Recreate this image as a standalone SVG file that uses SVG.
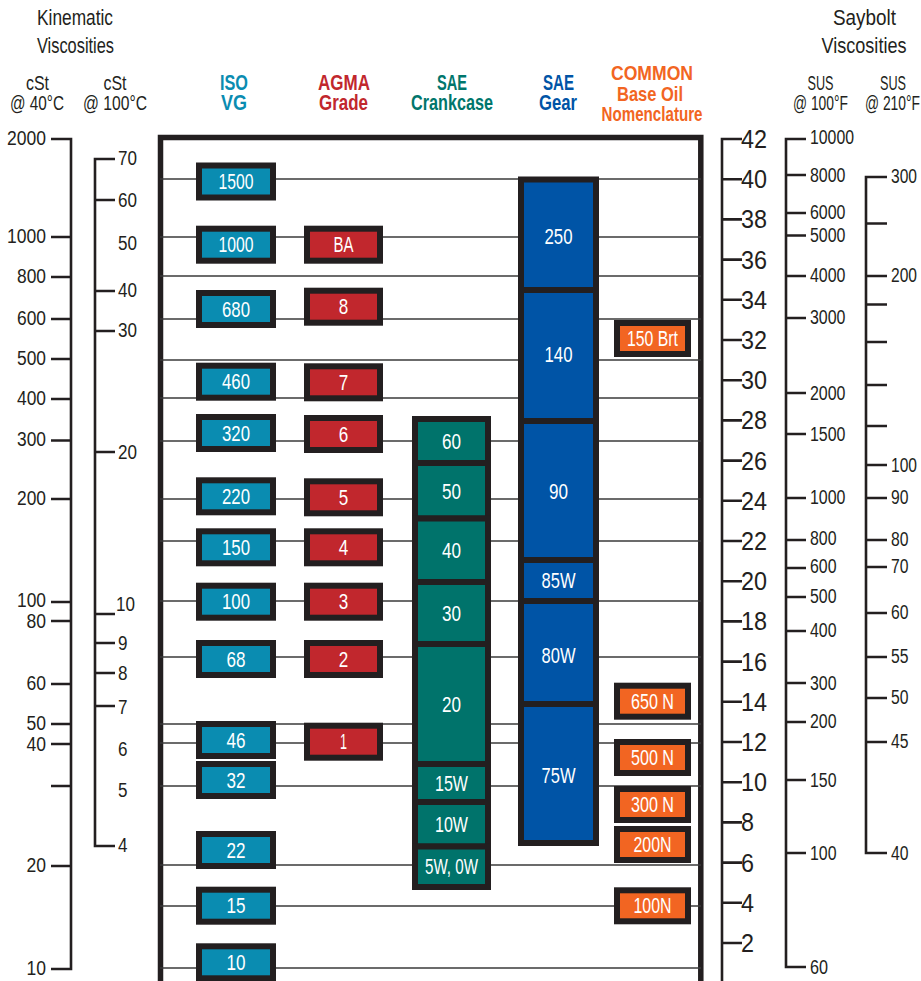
<svg xmlns="http://www.w3.org/2000/svg" width="921" height="981" viewBox="0 0 921 981">
<style>
text{font-family:"Liberation Sans",Arial,sans-serif;}
.h{fill:#231f20;font-size:22px;text-anchor:middle;}
.h2{fill:#231f20;font-size:19.5px;text-anchor:middle;}
.hb{font-size:22px;font-weight:bold;text-anchor:middle;}
.hc{font-size:20.5px;font-weight:bold;text-anchor:middle;fill:#f26522;}
.sc{fill:none;stroke:#231f20;stroke-width:2.6;}
.lab{fill:#231f20;font-size:19.5px;dominant-baseline:central;}
.l1{text-anchor:end;}
.big{font-size:26px;}
.sm{font-size:20px;}
.grid line{stroke:#3a3a3a;stroke-width:1.6;}
.b rect{stroke:#231f20;stroke-width:6;}
.b text{fill:#fff;font-size:22px;text-anchor:middle;dominant-baseline:central;}
.iso rect{fill:#0a8cb1;}
.agma rect{fill:#c1272d;}
.crank rect{fill:#00736b;}
.gear rect{fill:#0054a6;}
.com rect{fill:#f26522;}
</style>

<g id="headers">
<text class="h" x="75" y="25" textLength="76" lengthAdjust="spacingAndGlyphs">Kinematic</text>
<text class="h" x="75.5" y="53" textLength="77" lengthAdjust="spacingAndGlyphs">Viscosities</text>
<text class="h2" x="37.5" y="90" textLength="23" lengthAdjust="spacingAndGlyphs">cSt</text>
<text class="h2" x="37" y="110" textLength="54" lengthAdjust="spacingAndGlyphs">@ 40°C</text>
<text class="h2" x="115" y="90" textLength="23" lengthAdjust="spacingAndGlyphs">cSt</text>
<text class="h2" x="115" y="110" textLength="64" lengthAdjust="spacingAndGlyphs">@ 100°C</text>
<text class="hb" x="234" y="90" fill="#0a8cb1" textLength="28" lengthAdjust="spacingAndGlyphs">ISO</text>
<text class="hb" x="234" y="110" fill="#0a8cb1" textLength="26" lengthAdjust="spacingAndGlyphs">VG</text>
<text class="hb" x="344" y="90" fill="#c1272d" textLength="52" lengthAdjust="spacingAndGlyphs">AGMA</text>
<text class="hb" x="343.5" y="110" fill="#c1272d" textLength="49" lengthAdjust="spacingAndGlyphs">Grade</text>
<text class="hb" x="452" y="90" fill="#00766c" textLength="30" lengthAdjust="spacingAndGlyphs">SAE</text>
<text class="hb" x="452" y="110" fill="#00766c" textLength="82" lengthAdjust="spacingAndGlyphs">Crankcase</text>
<text class="hb" x="558.5" y="90" fill="#0054a6" textLength="31" lengthAdjust="spacingAndGlyphs">SAE</text>
<text class="hb" x="558" y="110" fill="#0054a6" textLength="38" lengthAdjust="spacingAndGlyphs">Gear</text>
<text class="hc" x="652" y="80" textLength="82" lengthAdjust="spacingAndGlyphs">COMMON</text>
<text class="hc" x="650" y="100.5" textLength="66" lengthAdjust="spacingAndGlyphs">Base Oil</text>
<text class="hc" x="652" y="121" textLength="101" lengthAdjust="spacingAndGlyphs">Nomenclature</text>
<text class="h" x="864.5" y="25" textLength="63" lengthAdjust="spacingAndGlyphs">Saybolt</text>
<text class="h" x="864" y="53" textLength="85" lengthAdjust="spacingAndGlyphs">Viscosities</text>
<text class="h2" x="820.5" y="90" textLength="26" lengthAdjust="spacingAndGlyphs">SUS</text>
<text class="h2" x="820.5" y="110" textLength="55" lengthAdjust="spacingAndGlyphs">@ 100°F</text>
<text class="h2" x="893" y="90" textLength="26" lengthAdjust="spacingAndGlyphs">SUS</text>
<text class="h2" x="892.5" y="110" textLength="55" lengthAdjust="spacingAndGlyphs">@ 210°F</text>
</g>

<g id="scale-cst40">
<path class="sc" d="M51,139 H71 V969 H51 M51,237 H71 M51,277 H71 M51,319 H71 M51,359 H71 M51,399 H71 M51,440.5 H71 M51,499 H71 M51,602 H71 M51,621 H71 M51,684 H71 M51,724 H71 M51,744 H71 M51,786 H71 M51,866 H71"/>
<g class="lab l1">
<text x="46" y="138" textLength="39" lengthAdjust="spacingAndGlyphs">2000</text>
<text x="46" y="236" textLength="39" lengthAdjust="spacingAndGlyphs">1000</text>
<text x="46" y="276" textLength="29" lengthAdjust="spacingAndGlyphs">800</text>
<text x="46" y="318" textLength="29" lengthAdjust="spacingAndGlyphs">600</text>
<text x="46" y="358" textLength="29" lengthAdjust="spacingAndGlyphs">500</text>
<text x="46" y="398" textLength="29" lengthAdjust="spacingAndGlyphs">400</text>
<text x="46" y="439" textLength="29" lengthAdjust="spacingAndGlyphs">300</text>
<text x="46" y="498" textLength="29" lengthAdjust="spacingAndGlyphs">200</text>
<text x="46" y="600" textLength="29" lengthAdjust="spacingAndGlyphs">100</text>
<text x="46" y="621" textLength="19.5" lengthAdjust="spacingAndGlyphs">80</text>
<text x="46" y="683" textLength="19.5" lengthAdjust="spacingAndGlyphs">60</text>
<text x="46" y="723" textLength="19.5" lengthAdjust="spacingAndGlyphs">50</text>
<text x="46" y="744" textLength="19.5" lengthAdjust="spacingAndGlyphs">40</text>
<text x="46" y="865" textLength="19.5" lengthAdjust="spacingAndGlyphs">20</text>
<text x="46" y="968" textLength="19.5" lengthAdjust="spacingAndGlyphs">10</text>
</g>
</g>

<g id="scale-cst100">
<path class="sc" d="M115,159 H95 V846 H115 M95,200 H115 M95,291 H115 M95,331 H115 M95,452 H115 M95,614 H115 M95,643 H115 M95,673 H115 M95,706 H115"/>
<g class="lab">
<text x="118" y="158" textLength="19" lengthAdjust="spacingAndGlyphs">70</text>
<text x="118" y="200" textLength="19" lengthAdjust="spacingAndGlyphs">60</text>
<text x="118" y="243" textLength="19" lengthAdjust="spacingAndGlyphs">50</text>
<text x="118" y="290" textLength="19" lengthAdjust="spacingAndGlyphs">40</text>
<text x="118" y="330" textLength="19" lengthAdjust="spacingAndGlyphs">30</text>
<text x="118" y="452" textLength="19" lengthAdjust="spacingAndGlyphs">20</text>
<text x="116" y="604" textLength="19" lengthAdjust="spacingAndGlyphs">10</text>
<text x="118" y="643" textLength="9.5" lengthAdjust="spacingAndGlyphs">9</text>
<text x="118" y="673" textLength="9.5" lengthAdjust="spacingAndGlyphs">8</text>
<text x="118" y="707" textLength="9.5" lengthAdjust="spacingAndGlyphs">7</text>
<text x="118" y="749" textLength="9.5" lengthAdjust="spacingAndGlyphs">6</text>
<text x="118" y="790" textLength="9.5" lengthAdjust="spacingAndGlyphs">5</text>
<text x="118" y="845" textLength="9.5" lengthAdjust="spacingAndGlyphs">4</text>
</g>
</g>

<g id="frame">
<path d="M160.5,981 V137.5 H700.8 V981" fill="none" stroke="#231f20" stroke-width="5.5"/>
</g>

<g id="connectors" class="grid">
<line x1="160" y1="179" x2="701" y2="179"/>
<line x1="160" y1="237" x2="701" y2="237"/>
<line x1="160" y1="276" x2="701" y2="276"/>
<line x1="160" y1="319" x2="701" y2="319"/>
<line x1="160" y1="360" x2="701" y2="360"/>
<line x1="160" y1="398" x2="701" y2="398"/>
<line x1="160" y1="441" x2="701" y2="441"/>
<line x1="160" y1="499" x2="701" y2="499"/>
<line x1="160" y1="541" x2="701" y2="541"/>
<line x1="160" y1="601" x2="701" y2="601"/>
<line x1="160" y1="657" x2="701" y2="657"/>
<line x1="160" y1="724" x2="701" y2="724"/>
<line x1="160" y1="743" x2="701" y2="743"/>
<line x1="160" y1="786" x2="701" y2="786"/>
<line x1="160" y1="865" x2="701" y2="865"/>
<line x1="160" y1="906" x2="701" y2="906"/>
<line x1="160" y1="968" x2="701" y2="968"/>
</g>

<g class="b iso">
<g id="iso-1500"><rect x="199" y="165.5" width="74" height="32"/><text x="236" y="181.5" textLength="35" lengthAdjust="spacingAndGlyphs">1500</text></g>
<g id="iso-1000"><rect x="199" y="228.7" width="74" height="32"/><text x="236" y="244.7" textLength="35" lengthAdjust="spacingAndGlyphs">1000</text></g>
<g id="iso-680"><rect x="199" y="293" width="74" height="32"/><text x="236" y="309" textLength="28" lengthAdjust="spacingAndGlyphs">680</text></g>
<g id="iso-460"><rect x="199" y="365.7" width="74" height="32"/><text x="236" y="381.7" textLength="28" lengthAdjust="spacingAndGlyphs">460</text></g>
<g id="iso-320"><rect x="199" y="417" width="74" height="32"/><text x="236" y="433" textLength="28" lengthAdjust="spacingAndGlyphs">320</text></g>
<g id="iso-220"><rect x="199" y="480.3" width="74" height="32"/><text x="236" y="496.3" textLength="28" lengthAdjust="spacingAndGlyphs">220</text></g>
<g id="iso-150"><rect x="199" y="531.3" width="74" height="32"/><text x="236" y="547.3" textLength="28" lengthAdjust="spacingAndGlyphs">150</text></g>
<g id="iso-100"><rect x="199" y="585.7" width="74" height="32"/><text x="236" y="601.7" textLength="28" lengthAdjust="spacingAndGlyphs">100</text></g>
<g id="iso-68"><rect x="199" y="643" width="74" height="32"/><text x="236" y="659" textLength="19" lengthAdjust="spacingAndGlyphs">68</text></g>
<g id="iso-46"><rect x="199" y="724" width="74" height="32"/><text x="236" y="740" textLength="19" lengthAdjust="spacingAndGlyphs">46</text></g>
<g id="iso-32"><rect x="199" y="764" width="74" height="32"/><text x="236" y="780" textLength="19" lengthAdjust="spacingAndGlyphs">32</text></g>
<g id="iso-22"><rect x="199" y="834" width="74" height="32"/><text x="236" y="850" textLength="19" lengthAdjust="spacingAndGlyphs">22</text></g>
<g id="iso-15"><rect x="199" y="889.7" width="74" height="32"/><text x="236" y="905.7" textLength="19" lengthAdjust="spacingAndGlyphs">15</text></g>
<g id="iso-10"><rect x="199" y="946.3" width="74" height="32"/><text x="236" y="962.3" textLength="19" lengthAdjust="spacingAndGlyphs">10</text></g>
</g>

<g class="b agma">
<g id="agma-BA"><rect x="307" y="228.7" width="73" height="32"/><text x="343.5" y="244.7" textLength="20" lengthAdjust="spacingAndGlyphs">BA</text></g>
<g id="agma-8"><rect x="307" y="290.7" width="73" height="32"/><text x="343.5" y="306.7" textLength="9.5" lengthAdjust="spacingAndGlyphs">8</text></g>
<g id="agma-7"><rect x="307" y="366.3" width="73" height="32"/><text x="343.5" y="382.3" textLength="9.5" lengthAdjust="spacingAndGlyphs">7</text></g>
<g id="agma-6"><rect x="307" y="418" width="73" height="32"/><text x="343.5" y="434" textLength="9.5" lengthAdjust="spacingAndGlyphs">6</text></g>
<g id="agma-5"><rect x="307" y="481.3" width="73" height="32"/><text x="343.5" y="497.3" textLength="9.5" lengthAdjust="spacingAndGlyphs">5</text></g>
<g id="agma-4"><rect x="307" y="531.3" width="73" height="32"/><text x="343.5" y="547.3" textLength="9.5" lengthAdjust="spacingAndGlyphs">4</text></g>
<g id="agma-3"><rect x="307" y="585.7" width="73" height="32"/><text x="343.5" y="601.7" textLength="9.5" lengthAdjust="spacingAndGlyphs">3</text></g>
<g id="agma-2"><rect x="307" y="643" width="73" height="32"/><text x="343.5" y="659" textLength="9.5" lengthAdjust="spacingAndGlyphs">2</text></g>
<g id="agma-1"><rect x="307" y="725.7" width="73" height="32"/><text x="343.5" y="741.7" textLength="7" lengthAdjust="spacingAndGlyphs">1</text></g>
</g>

<g class="b crank">
<g id="crank-60"><rect x="415" y="419" width="73" height="44"/><text x="451.5" y="441" textLength="19" lengthAdjust="spacingAndGlyphs">60</text></g>
<g id="crank-50"><rect x="415" y="463" width="73" height="55.5"/><text x="451.5" y="491" textLength="19" lengthAdjust="spacingAndGlyphs">50</text></g>
<g id="crank-40"><rect x="415" y="518.5" width="73" height="63.5"/><text x="451.5" y="550" textLength="19" lengthAdjust="spacingAndGlyphs">40</text></g>
<g id="crank-30"><rect x="415" y="582" width="73" height="62"/><text x="451.5" y="613" textLength="19" lengthAdjust="spacingAndGlyphs">30</text></g>
<g id="crank-20"><rect x="415" y="644" width="73" height="120"/><text x="451.5" y="704" textLength="19" lengthAdjust="spacingAndGlyphs">20</text></g>
<g id="crank-15W"><rect x="415" y="764" width="73" height="38"/><text x="451.5" y="783" textLength="33" lengthAdjust="spacingAndGlyphs">15W</text></g>
<g id="crank-10W"><rect x="415" y="802" width="73" height="44.5"/><text x="451.5" y="824" textLength="33" lengthAdjust="spacingAndGlyphs">10W</text></g>
<g id="crank-5W0W"><rect x="415" y="846.5" width="73" height="40.5"/><text x="451.5" y="866.5" textLength="53" lengthAdjust="spacingAndGlyphs">5W, 0W</text></g>
</g>

<g class="b gear">
<g id="gear-250"><rect x="521" y="179.5" width="75" height="110.5"/><text x="558.5" y="236.5" textLength="28" lengthAdjust="spacingAndGlyphs">250</text></g>
<g id="gear-140"><rect x="521" y="290" width="75" height="131"/><text x="558.5" y="354" textLength="28" lengthAdjust="spacingAndGlyphs">140</text></g>
<g id="gear-90"><rect x="521" y="421" width="75" height="139"/><text x="558.5" y="491.5" textLength="19" lengthAdjust="spacingAndGlyphs">90</text></g>
<g id="gear-85W"><rect x="521" y="560" width="75" height="41"/><text x="558.5" y="580" textLength="34" lengthAdjust="spacingAndGlyphs">85W</text></g>
<g id="gear-80W"><rect x="521" y="601" width="75" height="103"/><text x="558.5" y="655.5" textLength="34" lengthAdjust="spacingAndGlyphs">80W</text></g>
<g id="gear-75W"><rect x="521" y="704" width="75" height="139"/><text x="558.5" y="775" textLength="34" lengthAdjust="spacingAndGlyphs">75W</text></g>
</g>

<g class="b com">
<g id="com-150Brt"><rect x="617" y="323" width="71" height="31"/><text x="652.5" y="338.5" textLength="51" lengthAdjust="spacingAndGlyphs">150 Brt</text></g>
<g id="com-650N"><rect x="617" y="685.7" width="71" height="31"/><text x="652.5" y="701.2" textLength="43" lengthAdjust="spacingAndGlyphs">650 N</text></g>
<g id="com-500N"><rect x="617" y="742" width="71" height="31"/><text x="652.5" y="757.5" textLength="43" lengthAdjust="spacingAndGlyphs">500 N</text></g>
<g id="com-300N"><rect x="617" y="789" width="71" height="31"/><text x="652.5" y="804.5" textLength="43" lengthAdjust="spacingAndGlyphs">300 N</text></g>
<g id="com-200N"><rect x="617" y="829" width="71" height="31"/><text x="652.5" y="844.5" textLength="38" lengthAdjust="spacingAndGlyphs">200N</text></g>
<g id="com-100N"><rect x="617" y="890.3" width="71" height="31"/><text x="652.5" y="905.8" textLength="38" lengthAdjust="spacingAndGlyphs">100N</text></g>
</g>

<g id="scale-right1">
<path class="sc" d="M742,139 H722 V981 M722,179.2 H742 M722,219.4 H742 M722,259.6 H742 M722,299.8 H742 M722,340 H742 M722,380.2 H742 M722,420.4 H742 M722,460.6 H742 M722,500.8 H742 M722,541 H742 M722,581.2 H742 M722,621.4 H742 M722,661.6 H742 M722,701.8 H742 M722,742 H742 M722,782.2 H742 M722,822.4 H742 M722,862.6 H742 M722,902.8 H742 M722,943 H742"/>
<g class="lab big">
<text x="741" y="139" textLength="26" lengthAdjust="spacingAndGlyphs">42</text>
<text x="741" y="179.2" textLength="26" lengthAdjust="spacingAndGlyphs">40</text>
<text x="741" y="219.4" textLength="26" lengthAdjust="spacingAndGlyphs">38</text>
<text x="741" y="259.6" textLength="26" lengthAdjust="spacingAndGlyphs">36</text>
<text x="741" y="299.8" textLength="26" lengthAdjust="spacingAndGlyphs">34</text>
<text x="741" y="340" textLength="26" lengthAdjust="spacingAndGlyphs">32</text>
<text x="741" y="380.2" textLength="26" lengthAdjust="spacingAndGlyphs">30</text>
<text x="741" y="420.4" textLength="26" lengthAdjust="spacingAndGlyphs">28</text>
<text x="741" y="460.6" textLength="26" lengthAdjust="spacingAndGlyphs">26</text>
<text x="741" y="500.8" textLength="26" lengthAdjust="spacingAndGlyphs">24</text>
<text x="741" y="541" textLength="26" lengthAdjust="spacingAndGlyphs">22</text>
<text x="741" y="581.2" textLength="26" lengthAdjust="spacingAndGlyphs">20</text>
<text x="741" y="621.4" textLength="26" lengthAdjust="spacingAndGlyphs">18</text>
<text x="741" y="661.6" textLength="26" lengthAdjust="spacingAndGlyphs">16</text>
<text x="741" y="701.8" textLength="26" lengthAdjust="spacingAndGlyphs">14</text>
<text x="741" y="742" textLength="26" lengthAdjust="spacingAndGlyphs">12</text>
<text x="741" y="782.2" textLength="26" lengthAdjust="spacingAndGlyphs">10</text>
<text x="741" y="822.4" textLength="13" lengthAdjust="spacingAndGlyphs">8</text>
<text x="741" y="862.6" textLength="13" lengthAdjust="spacingAndGlyphs">6</text>
<text x="741" y="902.8" textLength="13" lengthAdjust="spacingAndGlyphs">4</text>
<text x="741" y="943" textLength="13" lengthAdjust="spacingAndGlyphs">2</text>
</g>
</g>

<g id="scale-sus100">
<path class="sc" d="M806,139 H786 V967 H806 M786,175 H806 M786,213 H806 M786,235.5 H806 M786,276 H806 M786,318 H806 M786,393 H806 M786,434 H806 M786,498 H806 M786,540 H806 M786,568 H806 M786,597 H806 M786,631 H806 M786,683 H806 M786,722 H806 M786,780 H806 M786,853 H806"/>
<g class="lab sm">
<text x="810" y="137" textLength="44" lengthAdjust="spacingAndGlyphs">10000</text>
<text x="810" y="175" textLength="35.5" lengthAdjust="spacingAndGlyphs">8000</text>
<text x="810" y="212" textLength="35.5" lengthAdjust="spacingAndGlyphs">6000</text>
<text x="810" y="235" textLength="35.5" lengthAdjust="spacingAndGlyphs">5000</text>
<text x="810" y="275" textLength="35.5" lengthAdjust="spacingAndGlyphs">4000</text>
<text x="810" y="317" textLength="35.5" lengthAdjust="spacingAndGlyphs">3000</text>
<text x="810" y="393" textLength="35.5" lengthAdjust="spacingAndGlyphs">2000</text>
<text x="810" y="434" textLength="35.5" lengthAdjust="spacingAndGlyphs">1500</text>
<text x="810" y="497" textLength="35.5" lengthAdjust="spacingAndGlyphs">1000</text>
<text x="810" y="538" textLength="26.5" lengthAdjust="spacingAndGlyphs">800</text>
<text x="810" y="566" textLength="26.5" lengthAdjust="spacingAndGlyphs">600</text>
<text x="810" y="596" textLength="26.5" lengthAdjust="spacingAndGlyphs">500</text>
<text x="810" y="630" textLength="26.5" lengthAdjust="spacingAndGlyphs">400</text>
<text x="810" y="683" textLength="26.5" lengthAdjust="spacingAndGlyphs">300</text>
<text x="810" y="721" textLength="26.5" lengthAdjust="spacingAndGlyphs">200</text>
<text x="810" y="780" textLength="26.5" lengthAdjust="spacingAndGlyphs">150</text>
<text x="810" y="853" textLength="26.5" lengthAdjust="spacingAndGlyphs">100</text>
<text x="810" y="967" textLength="18" lengthAdjust="spacingAndGlyphs">60</text>
</g>
</g>

<g id="scale-sus210">
<path class="sc" d="M887,177 H866 V853 H887 M866,223.5 H887 M866,276 H887 M866,304.5 H887 M866,342 H887 M866,385 H887 M866,426 H887 M866,465 H887 M866,498 H887 M866,540 H887 M866,567 H887 M866,613 H887 M866,657 H887 M866,698 H887 M866,742 H887"/>
<g class="lab sm">
<text x="891" y="176" textLength="26" lengthAdjust="spacingAndGlyphs">300</text>
<text x="891" y="275" textLength="26" lengthAdjust="spacingAndGlyphs">200</text>
<text x="891" y="465" textLength="26" lengthAdjust="spacingAndGlyphs">100</text>
<text x="891" y="497" textLength="17.5" lengthAdjust="spacingAndGlyphs">90</text>
<text x="891" y="539" textLength="17.5" lengthAdjust="spacingAndGlyphs">80</text>
<text x="891" y="566" textLength="17.5" lengthAdjust="spacingAndGlyphs">70</text>
<text x="891" y="612" textLength="17.5" lengthAdjust="spacingAndGlyphs">60</text>
<text x="891" y="656" textLength="17.5" lengthAdjust="spacingAndGlyphs">55</text>
<text x="891" y="697" textLength="17.5" lengthAdjust="spacingAndGlyphs">50</text>
<text x="891" y="741" textLength="17.5" lengthAdjust="spacingAndGlyphs">45</text>
<text x="891" y="853" textLength="17.5" lengthAdjust="spacingAndGlyphs">40</text>
</g>
</g>
</svg>
